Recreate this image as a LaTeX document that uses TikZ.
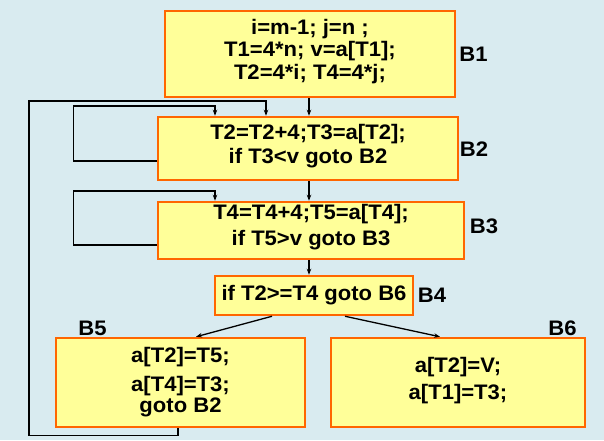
\documentclass[tikz,border=0pt]{standalone}
\usepackage{fontspec}
\setmainfont{Liberation Sans}[FakeStretch=1.05]
\usetikzlibrary{arrows.meta,calc}
\definecolor{bgc}{RGB}{217,235,240}
\definecolor{boxfill}{RGB}{255,255,153}
\definecolor{boxline}{RGB}{255,102,0}
\newcommand{\lowstrut}[1]{\rule[-#1]{0pt}{0pt}}
\begin{document}
\begin{tikzpicture}[x=1pt,y=-1pt,
  blk/.style={draw=boxline,fill=boxfill,line width=2.5pt,inner sep=0pt,align=center,
    font=\fontsize{21}{24}\selectfont\bfseries},
  lbl/.style={inner sep=0pt,font=\fontsize{21}{24}\selectfont\bfseries},
  conn/.style={draw=black,line width=1.3pt},
  arr/.style={conn,-{Stealth[length=6pt,width=4.5pt]}}]
\fill[bgc] (0,0) rectangle (604,440);
\useasboundingbox (0,0) rectangle (604,440);

\node[blk,minimum width=290pt,minimum height=86pt] (B1) at (310,54)
  {i=m-1; j=n ;\\[-1.5pt]T1=4*n; v=a[T1];\\[-1.5pt]T2=4*i; T4=4*j;\lowstrut{10pt}};
\node[blk,minimum width=300pt,minimum height=63pt] (B2) at (308,148.5)
  {T2=T2+4;T3=a[T2];\\if T3<v goto B2\lowstrut{9pt}};
\node[blk,minimum width=306pt,minimum height=57pt] (B3) at (311,230.5)
  {T4=T4+4;T5=a[T4];\\[2pt]if T5>v goto B3\lowstrut{12pt}};
\node[blk,minimum width=198pt,minimum height=39pt] (B4) at (314,295.5)
  {if T2>=T4 goto B6};
\node[blk,minimum width=249pt,minimum height=89pt] (B5) at (180.5,382.5)
  {a[T2]=T5;\\[5pt]a[T4]=T3;\\[-3pt]goto B2};
\node[blk,minimum width=254pt,minimum height=89pt] (B6) at (458,382.5)
  {a[T2]=V;\\[3pt]a[T1]=T3;\lowstrut{9pt}};

\node[lbl] (L1) at (473.5,54) {B1};
\node[lbl] (L2) at (474,149.5) {B2};
\node[lbl] (L3) at (484,226.5) {B3};
\node[lbl] (L4) at (432,295.5) {B4};
\node[lbl] (L5) at (92.5,328.5) {B5};
\node[lbl] (L6) at (562.5,328.5) {B6};

% straight flow
\draw[arr] ([xshift=-1pt]B1.south) -- ([xshift=-1pt]B1.south |- B2.north);
\draw[arr] ([xshift=1pt]B2.south) -- ([xshift=1pt]B2.south |- B3.north);
\draw[arr] ([xshift=-2pt]B3.south) -- ([xshift=-2pt]B3.south |- B4.north);
\draw[arr] ([xshift=-42pt]B4.south) -- ([xshift=15.5pt]B5.north);
\draw[arr] ([xshift=31pt]B4.south) -- ([xshift=-18pt]B6.north);

% loops
\coordinate (c2) at (73.5,106);
\coordinate (c3) at (73.5,191);
\coordinate (c5) at (29,101);
\draw[arr] ([yshift=-12.5pt]B2.west) -| (c2) -| ([xshift=-93pt]B2.north);
\draw[arr] ([yshift=-14.5pt]B3.west) -| (c3) -| ([xshift=-96pt]B3.north);
\draw[arr] ([xshift=-2.5pt]B5.south) -- ++(0,7) -| (c5) -| ([xshift=-42pt]B2.north);
\end{tikzpicture}
\end{document}
